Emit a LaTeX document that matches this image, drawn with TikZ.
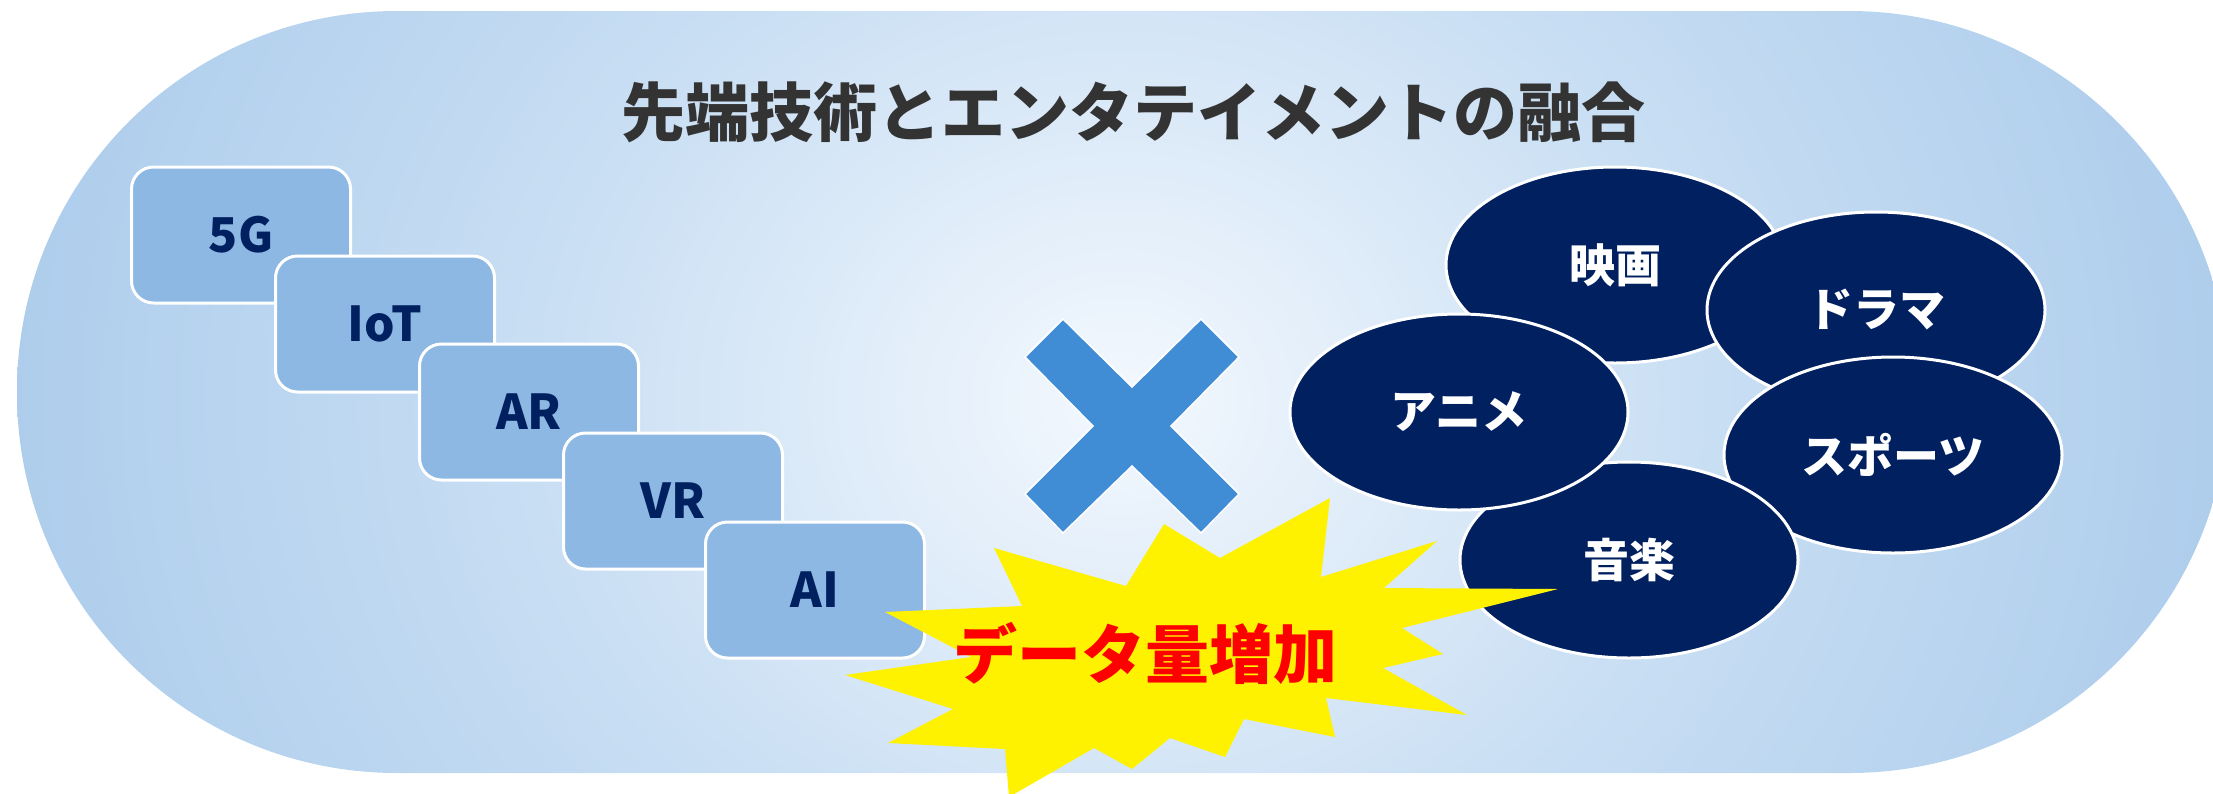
\documentclass[tikz,border=0pt]{standalone}
\usepackage{fontspec}
\newfontfamily\jpfont{Noto Sans CJK JP}
\usepackage{tikz}
\usetikzlibrary{shapes.geometric}

\definecolor{bgouter}{RGB}{166,200,234}
\definecolor{bgedge}{RGB}{180,210,238}
\definecolor{bgmid}{RGB}{200,222,243}
\definecolor{bginner}{RGB}{243,248,254}
\definecolor{techblue}{RGB}{141,184,227}
\definecolor{navy}{RGB}{0,32,96}
\definecolor{crossblue}{RGB}{64,140,213}
\definecolor{titlegray}{RGB}{51,51,51}
\pgfdeclareradialshading{bgglow}{\pgfpoint{0bp}{0bp}}{color(0bp)=(bginner); color(8bp)=(bgmid); color(17bp)=(bgouter); color(24bp)=(bgedge); color(50bp)=(bgedge)}

\begin{document}
\begin{tikzpicture}[x=1pt,y=-1pt]
	\tikzstyle{techbox} = [draw=white, line width=3pt, fill=techblue, rounded corners=22pt, minimum width=219pt, minimum height=136pt, inner sep=0pt, text=navy, font=\jpfont\bfseries\fontsize{48}{56}\selectfont]
	\tikzstyle{genre} = [ellipse, draw=white, line width=3pt, fill=navy, minimum width=338pt, minimum height=196pt, inner sep=0pt, text=white, font=\jpfont\bfseries\fontsize{46}{54}\selectfont]
	
	\useasboundingbox (0,0) rectangle (2213,793);
	\clip (0,0) rectangle (2213,793);
	
	% background
	\begin{scope}
	\clip[rounded corners=380pt] (17,11) rectangle (2229,773);
	\shade[shading=bgglow] (-740,-1225) rectangle (2980,2025);
	\end{scope}
	
	\node [font=\jpfont\bfseries\fontsize{64}{72}\selectfont, text=titlegray] (title) at (1133,112) {先端技術とエンタテイメントの融合};
	
	% technologies
	\node [techbox] (fiveg) at (241,235) {5G};
	\node [techbox] (iot) at (385,324) {IoT};
	\node [techbox] (ar) at (529,412) {AR};
	\node [techbox] (vr) at (673,501) {VR};
	\node [techbox] (ai) at (815,590) {AI};
	
	% entertainment
	\node [genre] (eiga) at (1615,265) {映画};
	\node [genre] (drama) at (1876,310) {ドラマ};
	\node [genre] (sports) at (1893,455) {スポーツ};
	\node [genre] (ongaku) at (1629,560) {音楽};
	\node [genre] (anime) at (1459,412) {アニメ};
	
	% cross
	\filldraw [fill=crossblue, draw=white, line width=1.5pt] (1025,357) -- (1063,319) -- (1132,387) -- (1201,319) -- (1239,357) -- (1171,426) -- (1239,494) -- (1201,533) -- (1132,466) -- (1063,533) -- (1025,494) -- (1093,426) -- cycle;
	
	% burst
	\fill [yellow] (845,675) -- (953,709) -- (888,743) -- (1005,749) -- (1009,797) -- (1094,748) -- (1132,769) -- (1170,738) -- (1225,757) -- (1244,719) -- (1335,737) -- (1326,698) -- (1467,715) -- (1383,668) -- (1443,654) -- (1402,628) -- (1558,589) -- (1384,588) -- (1437,541) -- (1321,577) -- (1330,498) -- (1220,558) -- (1164,524) -- (1126,586) -- (994,548) -- (1022,606) -- (885,612) -- (971,657) -- cycle;
	\node [font=\jpfont\bfseries\fontsize{64}{72}\selectfont, text=red] (dataup) at (1145,653) {データ量増加};
\end{tikzpicture}
\end{document}
